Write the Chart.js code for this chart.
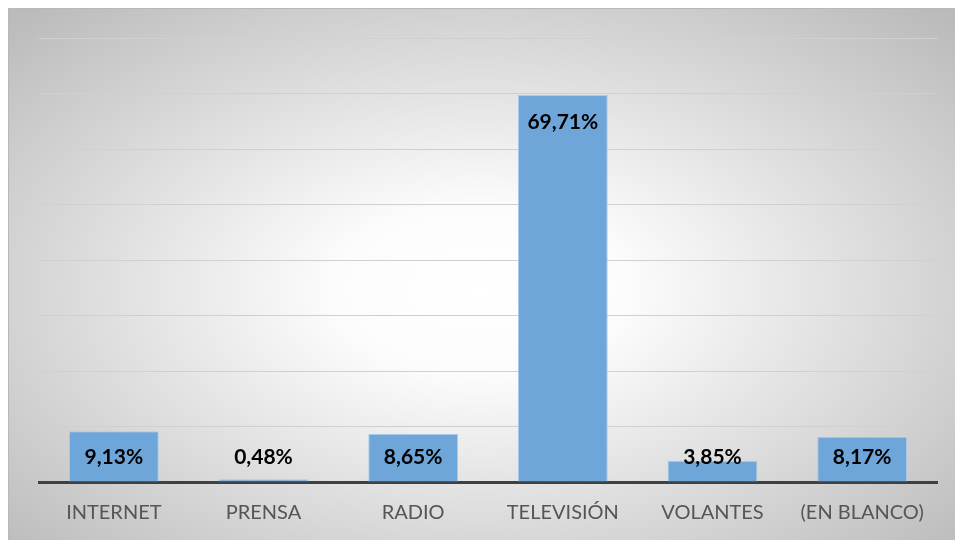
<!DOCTYPE html>
<html>
<head>
<meta charset="utf-8">
<script src="https://cdn.jsdelivr.net/npm/chart.js@4.4.1/dist/chart.umd.min.js"></script>
<style>
  html, body { margin: 0; padding: 0; background: #ffffff; }
  #wrap { width: 955px; height: 540px; }
</style>
</head>
<body>
<div id="wrap"><canvas id="c" width="955" height="540"></canvas></div>
<script>
// Medio por el que se informó (porcentaje de respuestas)
const categories = ['INTERNET', 'PRENSA', 'RADIO', 'TELEVISIÓN', 'VOLANTES', '(EN BLANCO)'];
const shares = [9.13, 0.48, 8.65, 69.71, 3.85, 8.17];
const valueLabels = ['9,13%', '0,48%', '8,65%', '69,71%', '3,85%', '8,17%'];

// Soft radial backdrop behind the whole chart
const backdrop = {
  id: 'backdrop',
  beforeDraw(chart) {
    const ctx = chart.ctx;
    const x0 = 8, y0 = 8, w = chart.width - x0, h = chart.height - y0;
    ctx.save();
    ctx.fillStyle = '#ffffff';
    ctx.fillRect(0, 0, chart.width, chart.height);
    ctx.beginPath();
    ctx.rect(x0, y0, w, h);
    ctx.clip();
    const cx = 480, cy = 290, rx = 660, ry = 380;
    ctx.translate(cx, cy);
    ctx.scale(1, ry / rx);
    const g = ctx.createRadialGradient(0, 0, 0, 0, 0, rx);
    g.addColorStop(0, '#ffffff');
    g.addColorStop(0.22, '#fcfcfc');
    g.addColorStop(1, '#bbbbbb');
    ctx.fillStyle = g;
    ctx.fillRect(-cx - 10, -cy * rx / ry - 10, chart.width + 20, chart.height * rx / ry + 20);
    ctx.restore();
    ctx.save();
    ctx.strokeStyle = '#b8b8b8';
    ctx.lineWidth = 1;
    ctx.beginPath();
    ctx.moveTo(x0 + 0.5, chart.height);
    ctx.lineTo(x0 + 0.5, y0 + 0.5);
    ctx.lineTo(chart.width, y0 + 0.5);
    ctx.stroke();
    ctx.restore();
  }
};

// Percentage labels placed near the top of each bar
const barValues = {
  id: 'barValues',
  afterDatasetsDraw(chart) {
    const ctx = chart.ctx;
    const meta = chart.getDatasetMeta(0);
    const base = chart.scales.y.getPixelForValue(0);
    ctx.save();
    ctx.font = 'bold 21px Lato, "Open Sans", sans-serif';
    ctx.fillStyle = '#000000';
    ctx.textAlign = 'center';
    ctx.textBaseline = 'middle';
    meta.data.forEach((bar, i) => {
      const y = Math.min(bar.y + 27, base - 25);
      ctx.fillText(valueLabels[i], bar.x, y);
    });
    ctx.restore();
  }
};

new Chart(document.getElementById('c'), {
  type: 'bar',
  data: {
    labels: categories,
    datasets: [{
      data: shares,
      backgroundColor: '#6fa6da',
      borderColor: '#a8cbea',
      borderWidth: 1,
      categoryPercentage: 1,
      barPercentage: 0.6
    }]
  },
  options: {
    responsive: false,
    animation: false,
    events: [],
    layout: { padding: { left: 39, right: 18, top: 38, bottom: 0 } },
    plugins: { legend: { display: false }, tooltip: { enabled: false } },
    scales: {
      x: {
        grid: { display: false, drawTicks: false },
        border: { display: true, color: '#404040', width: 3 },
        ticks: {
          color: '#555555',
          padding: 19,
          font: { family: 'Lato, "Open Sans", sans-serif', size: 20 }
        },
        afterFit(scale) { scale.height = 58; }
      },
      y: {
        min: 0,
        max: 80,
        ticks: { display: false, stepSize: 10 },
        grid: { color: '#d0d0d0', lineWidth: 1, drawTicks: false },
        border: { display: false }
      }
    }
  },
  plugins: [backdrop, barValues]
});
</script>
</body>
</html>
